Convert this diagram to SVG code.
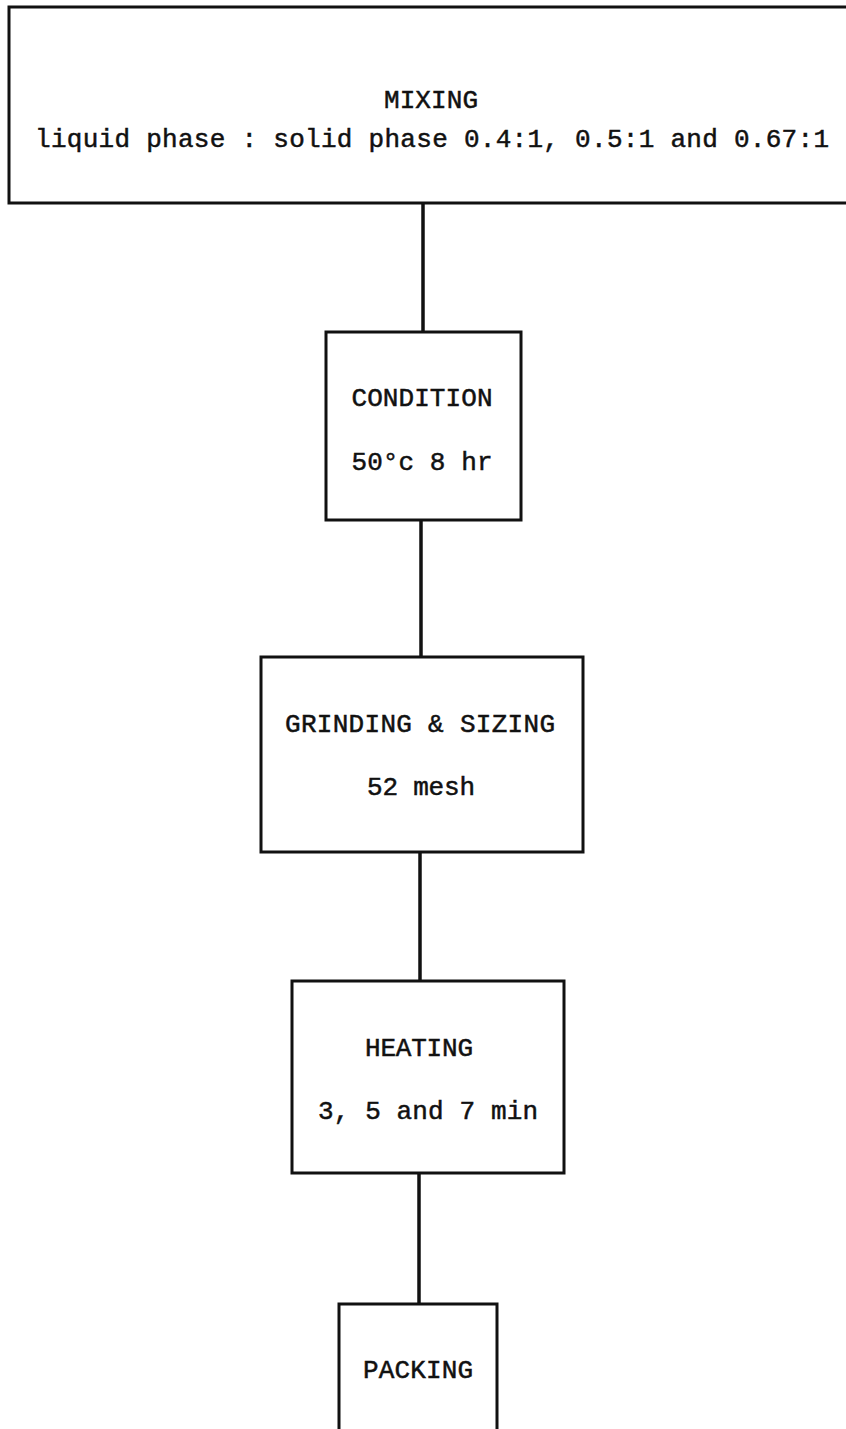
<svg xmlns="http://www.w3.org/2000/svg" width="846" height="1429" viewBox="0 0 846 1429">
<style>
.box{fill:#fff;stroke:#111;stroke-width:3}
.edge{stroke:#111;stroke-width:3.5;fill:none}
.t{font-family:"Liberation Mono","Courier New",monospace;font-size:26px;fill:#111;stroke:#111;stroke-width:0.5;text-anchor:middle}
</style>
<rect width="846" height="1429" fill="#fff"/>
<g id="connectors">
<line class="edge" x1="423" y1="204" x2="423" y2="332"/>
<line class="edge" x1="421" y1="520" x2="421" y2="657"/>
<line class="edge" x1="420" y1="852" x2="420" y2="981"/>
<line class="edge" x1="419" y1="1173" x2="419" y2="1304"/>
</g>
<g id="mixing">
<rect class="box" x="9" y="7" width="850" height="196"/>
<text class="t" x="431" y="108" textLength="94" lengthAdjust="spacing">MIXING</text>
<text class="t" x="432" y="147" textLength="794" lengthAdjust="spacing">liquid phase : solid phase 0.4:1, 0.5:1 and 0.67:1</text>
</g>
<g id="condition">
<rect class="box" x="326" y="332" width="195" height="188"/>
<text class="t" x="422" y="406" textLength="141" lengthAdjust="spacing">CONDITION</text>
<text class="t" x="422" y="470" textLength="141" lengthAdjust="spacing">50°c 8 hr</text>
</g>
<g id="grinding">
<rect class="box" x="261" y="657" width="322" height="195"/>
<text class="t" x="420" y="732" textLength="270" lengthAdjust="spacing">GRINDING &amp; SIZING</text>
<text class="t" x="421" y="795" textLength="108" lengthAdjust="spacing">52 mesh</text>
</g>
<g id="heating">
<rect class="box" x="292" y="981" width="272" height="192"/>
<text class="t" x="419" y="1056" textLength="108" lengthAdjust="spacing">HEATING</text>
<text class="t" x="428" y="1119" textLength="220" lengthAdjust="spacing">3, 5 and 7 min</text>
</g>
<g id="packing">
<path class="box" d="M339,1440 V1304 H497 V1440"/>
<text class="t" x="418" y="1378" textLength="110" lengthAdjust="spacing">PACKING</text>
</g>
</svg>
